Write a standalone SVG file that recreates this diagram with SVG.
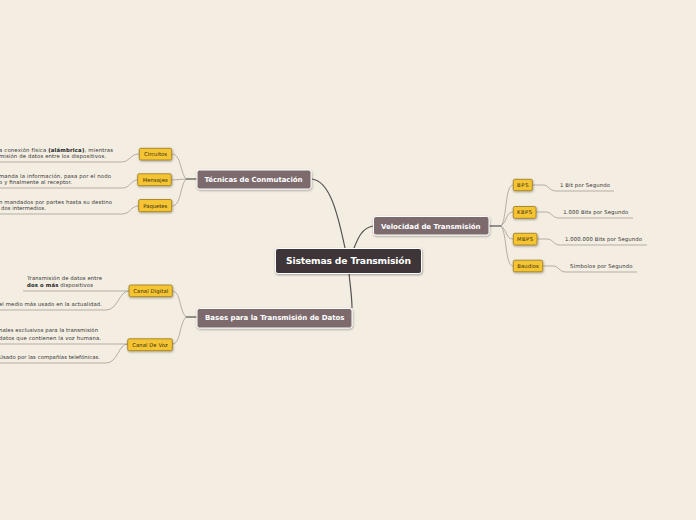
<svg xmlns="http://www.w3.org/2000/svg" width="696" height="520" viewBox="0 0 696 520">
<defs>
<filter id="sh" x="-20%" y="-30%" width="140%" height="170%">
<feDropShadow dx="0.5" dy="1" stdDeviation="0.8" flood-color="#000" flood-opacity="0.35"/>
</filter>
<style>
.bg{fill:#f3ede2}
.main{fill:#7b6b6d;stroke:#ffffff;stroke-width:1}
.root{fill:#3e3537;stroke:#ffffff;stroke-width:1}
.leafn{fill:#f5c431;stroke:#9a7a1e;stroke-width:0.8}
.mt{font-family:"DejaVu Sans",Verdana,sans-serif;font-weight:bold;fill:#ffffff}
.yt{font-family:"DejaVu Sans",Verdana,sans-serif;font-size:5.3px;fill:#3a2f10}
.lt{font-family:"DejaVu Sans",Verdana,sans-serif;font-size:5.3px;fill:#333333}
.b{font-weight:bold;fill:#222222}
.c1{fill:none;stroke:#555050;stroke-width:1.2}
.c2{fill:none;stroke:#9a928a;stroke-width:0.7}
</style>
</defs>
<rect class="bg" x="0" y="0" width="696" height="520"/>

<g id="connectors">
<path class="c1" d="M312,179 C330,181 338,215 345,248"/>
<path class="c1" d="M373,226 C362,228 358,238 354,248"/>
<path class="c1" d="M349,273 C350,285 352,296 352,308"/>
<path class="c1" d="M197,179 L186,179"/>
<path class="c1" d="M489,226 L501,226"/>
<path class="c1" d="M197,317 L186,317"/>
<path class="c2" d="M186,179 C180,172 181,154 172,154"/>
<path class="c2" d="M186,179 L172,180"/>
<path class="c2" d="M186,179 C180,186 181,206 172,206"/>
<path class="c2" d="M501,226 C507,219 505,185 513,185"/>
<path class="c2" d="M501,226 C507,222 506,212 513,212"/>
<path class="c2" d="M501,226 C507,230 506,239 513,239"/>
<path class="c2" d="M501,226 C507,233 505,266 513,266"/>
<path class="c2" d="M186,317 C179,310 181,291 172,291"/>
<path class="c2" d="M186,317 C179,324 181,344 172,344"/>
<path class="c2" d="M139,154 C130,154 130,162 121,162 L0,162"/>
<path class="c2" d="M138,180 C130,180 131,188 122,188 L0,188"/>
<path class="c2" d="M139,206 C130,206 131,214 122,214 L0,214"/>
<path class="c2" d="M129,291 L23,291"/>
<path class="c2" d="M129,291 C119,291 118,310 106,310 L0,310"/>
<path class="c2" d="M128,344 L0,344"/>
<path class="c2" d="M128,344 C118,344 118,363 106,363 L0,363"/>
<path class="c2" d="M532,185 L543,185 C549,185 549,191 556,191 L614,191"/>
<path class="c2" d="M536,212 L546,212 C552,212 552,218 559,218 L633,218"/>
<path class="c2" d="M537,239 L547,239 C553,239 553,245 560,245 L647,245"/>
<path class="c2" d="M543,266 L553,266 C559,266 559,272 566,272 L637,272"/>
</g>

<g id="root">
<rect class="root" x="275.5" y="248.5" width="146" height="25" rx="2.5" filter="url(#sh)"/>
<text class="mt" x="286" y="264" font-size="9.2" textLength="125">Sistemas de Transmisión</text>
</g>

<g id="tecnicas">
<rect class="main" x="197" y="170" width="114" height="19" rx="2.5" filter="url(#sh)"/>
<text class="mt" x="204.5" y="182" font-size="7" textLength="98">Técnicas de Conmutación</text>
</g>

<g id="velocidad">
<rect class="main" x="373.5" y="216.5" width="115.5" height="18.5" rx="2.5" filter="url(#sh)"/>
<text class="mt" x="381" y="228.5" font-size="7" textLength="99.5">Velocidad de Transmisión</text>
</g>

<g id="bases">
<rect class="main" x="197" y="308.5" width="155" height="19.5" rx="2.5" filter="url(#sh)"/>
<text class="mt" x="205" y="320.3" font-size="7" textLength="139.5">Bases para la Transmisión de Datos</text>
</g>

<g id="circuitos">
<rect class="leafn" x="139.3" y="148.3" width="32.4" height="11.7" rx="1.5" filter="url(#sh)"/>
<text class="yt" x="144" y="156" textLength="23">Circuitos</text>
</g>
<g id="mensajes">
<rect class="leafn" x="137.7" y="173.8" width="33.6" height="11.9" rx="1.5" filter="url(#sh)"/>
<text class="yt" x="142.7" y="181.7" textLength="25">Mensajes</text>
</g>
<g id="paquetes">
<rect class="leafn" x="138.7" y="199.5" width="33" height="12.2" rx="1.5" filter="url(#sh)"/>
<text class="yt" x="143.3" y="207.6" textLength="24">Paquetes</text>
</g>
<g id="canaldigital">
<rect class="leafn" x="129" y="285" width="43.3" height="11.7" rx="1.5" filter="url(#sh)"/>
<text class="yt" x="133.3" y="292.8" textLength="35">Canal Digital</text>
</g>
<g id="canalvoz">
<rect class="leafn" x="127.7" y="338.8" width="44.6" height="11.9" rx="1.5" filter="url(#sh)"/>
<text class="yt" x="132.3" y="346.7" textLength="35.4">Canal De Voz</text>
</g>
<g id="bps">
<rect class="leafn" x="513.3" y="179.3" width="19" height="11.4" rx="1.5" filter="url(#sh)"/>
<text class="yt" x="517" y="187" textLength="11.5">BPS</text>
</g>
<g id="kbps">
<rect class="leafn" x="513.3" y="206.5" width="22.7" height="11.8" rx="1.5" filter="url(#sh)"/>
<text class="yt" x="517" y="214.3" textLength="15">KBPS</text>
</g>
<g id="mbps">
<rect class="leafn" x="513.3" y="233.3" width="23.7" height="11.7" rx="1.5" filter="url(#sh)"/>
<text class="yt" x="517" y="241.2" textLength="16">MBPS</text>
</g>
<g id="baudios">
<rect class="leafn" x="513.3" y="260.2" width="29.4" height="11.6" rx="1.5" filter="url(#sh)"/>
<text class="yt" x="517.3" y="268" textLength="21.5">Baudios</text>
</g>

<g id="texto-circuitos">
<text class="lt" x="-1" y="152" textLength="114">a conexión física <tspan class="b">(alámbrica)</tspan>, mientras</text>
<text class="lt" x="-1" y="158.3" textLength="107">misión de datos entre los dispositivos.</text>
</g>
<g id="texto-mensajes">
<text class="lt" x="-1" y="177.5" textLength="112">manda la información, pasa por el nodo</text>
<text class="lt" x="-1" y="184" textLength="73">o y finalmente al receptor.</text>
</g>
<g id="texto-paquetes">
<text class="lt" x="-1" y="203.8" textLength="113">n mandados por partes hasta su destino</text>
<text class="lt" x="1" y="210.3" textLength="45">dos intermedios.</text>
</g>
<g id="texto-digital1">
<text class="lt" x="27" y="280.3" textLength="75">Transmisión de datos entre</text>
<text class="lt" x="27" y="287" textLength="66"><tspan class="b">dos o más</tspan> dispositivos</text>
</g>
<g id="texto-digital2">
<text class="lt" x="-1" y="306.3" textLength="103">el medio más usado en la actualidad.</text>
</g>
<g id="texto-voz1">
<text class="lt" x="-1" y="332.3" textLength="99">nales exclusivos para la transmisión</text>
<text class="lt" x="-1" y="339.5" textLength="102">datos que contienen la voz humana.</text>
</g>
<g id="texto-voz2">
<text class="lt" x="-1" y="358.8" textLength="101">Usado por las compañías telefónicas.</text>
</g>
<g id="texto-bps">
<text class="lt" x="560" y="187" textLength="50">1 Bit por Segundo</text>
</g>
<g id="texto-kbps">
<text class="lt" x="563.3" y="214.3" textLength="65">1.000 Bits por Segundo</text>
</g>
<g id="texto-mbps">
<text class="lt" x="565" y="241.2" textLength="77">1.000.000 Bits por Segundo</text>
</g>
<g id="texto-baudios">
<text class="lt" x="570" y="268.2" textLength="62.5">Símbolos por Segundo</text>
</g>
</svg>
